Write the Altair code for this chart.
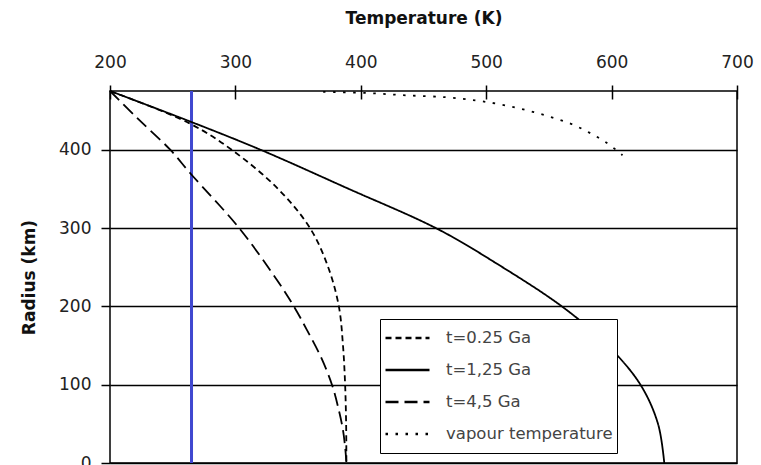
import altair as alt
import pandas as pd

series_names = ["t=0.25 Ga", "t=1,25 Ga", "t=4,5 Ga", "vapour temperature"]

# t = 0.25 Ga (short dash)
r_025 = [475, 434, 400, 350, 300, 250, 200, 150, 100, 50, 0]
t_025 = [200, 263, 297, 334, 359.5, 374, 382.5, 385.8, 387.5, 388.3, 388.5]

# t = 1.25 Ga (solid)
r_125 = [475, 436, 400, 351, 299, 254, 198, 150, 100, 50, 0]
t_125 = [200, 264, 320, 389, 461, 509, 562, 597, 623, 637, 642]

# t = 4.5 Ga (long dash)
r_45 = [475, 440, 400, 370, 300, 234, 199, 170, 136, 100, 68, 42, 17, 0]
t_45 = [200, 222, 248, 264, 303, 333, 347, 357, 368, 377, 382.4, 385.8, 387.7, 388.5]

# vapour temperature (dotted)
r_vap = [474, 472.5, 469.5, 467, 463, 459, 454, 448, 441, 432.5, 421.5, 409, 393]
t_vap = [370, 404.5, 436, 468, 491.5, 507.5, 523, 538, 553, 568.5, 582.6, 596, 608.7]

blue_T = [265]

x_ticks = [200, 300, 400, 500, 600, 700]
y_ticks = [0, 100, 200, 300, 400]

rows = []
for name, rs, ts in zip(series_names, [r_025, r_125, r_45, r_vap], [t_025, t_125, t_45, t_vap]):
    for i, (r, t) in enumerate(zip(rs, ts)):
        rows.append({"series": name, "R": r, "T": t, "i": i})
df = pd.DataFrame(rows)

dash_range = [[6, 4], [1, 0], [13, 6], [2.5, 7.5]]

FONT = "DejaVu Sans"

xscale = alt.Scale(domain=[200, 700], nice=False, zero=False)
yscale = alt.Scale(domain=[0, 475], nice=False, zero=True)

lines = alt.Chart(df).mark_line(color="black", strokeWidth=1.8, interpolate="catmull-rom", strokeCap="butt").encode(
    x=alt.X("T:Q", scale=xscale, axis=alt.Axis(
        orient="top", values=x_ticks, tickSize=14, offset=-8, domain=False,
        labelPadding=14, labelFont=FONT, labelFontSize=17, labelColor="#222",
        tickColor="black", tickWidth=1.5, grid=False, labelFlush=False,
        title="Temperature (K)", titleFont=FONT, titleFontSize=17, titleFontWeight="bold",
        titleColor="#111", titlePadding=26)),
    y=alt.Y("R:Q", scale=yscale, axis=alt.Axis(
        values=y_ticks, tickSize=9, tickWidth=1.5, tickColor="black",
        grid=True, gridColor="black", gridWidth=1.5, gridOpacity=1, domain=False,
        labelPadding=10, labelFont=FONT, labelFontSize=17, labelColor="#222",
        title="Radius (km)", titleFont=FONT, titleFontSize=17, titleFontWeight="bold",
        titleColor="#111", titlePadding=20)),
    strokeDash=alt.StrokeDash("series:N", scale=alt.Scale(domain=series_names, range=dash_range),
        legend=alt.Legend(title=None, orient="none", legendX=270, legendY=228,
                          symbolType="stroke", symbolSize=1936, symbolStrokeWidth=2.5,
                          symbolStrokeColor="black", labelFont=FONT, labelFontSize=16.5,
                          labelColor="#444", fillColor="white", strokeColor="black",
                          padding=4, clipHeight=30, rowPadding=2, labelOffset=15, labelLimit=300)),
    detail="series:N",
    order=alt.Order("i:Q"),
)

blue = alt.Chart(pd.DataFrame({"T": blue_T})).mark_rule(color="#4048d0", strokeWidth=3).encode(
    x=alt.X("T:Q", scale=xscale)
)

chart = alt.layer(blue, lines).properties(
    width=627, height=372,
    padding={"left": 110, "top": 91, "right": 24, "bottom": 2},
    autosize=alt.AutoSizeParams(type="none"),
    background="white",
).configure_view(stroke="black", strokeWidth=1.5)

chart.save("out.html", embed_options={"renderer": "svg", "actions": False})
